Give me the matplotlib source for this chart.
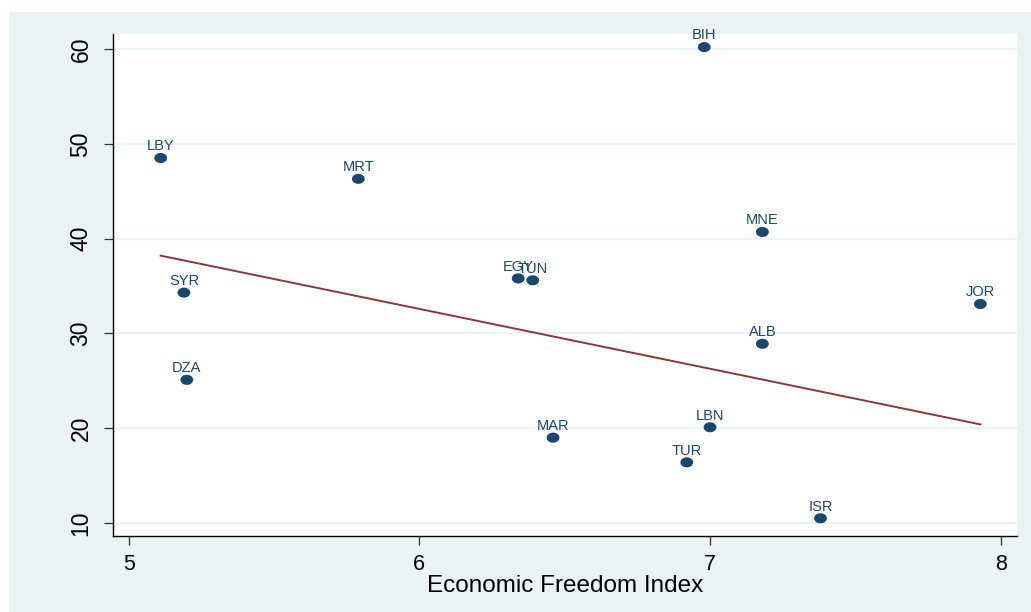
import matplotlib
matplotlib.use("Agg")
import numpy as np
import matplotlib.pyplot as plt
from matplotlib.patches import Rectangle
from matplotlib.path import Path

# Country data: economic freedom index vs. outcome measure
countries = ["BIH", "LBY", "MRT", "MNE", "EGY", "TUN", "SYR",
             "JOR", "ALB", "DZA", "MAR", "LBN", "TUR", "ISR"]
freedom = [6.98, 5.11, 5.79, 7.18, 6.34, 6.39, 5.19,
           7.93, 7.18, 5.20, 6.46, 7.00, 6.92, 7.38]
outcome = [60.2, 48.5, 46.3, 40.7, 35.8, 35.6, 34.3,
           33.1, 28.9, 25.1, 19.0, 20.1, 16.4, 10.5]

# Fitted line endpoints
fit_x = [5.11, 7.93]
fit_y = [38.2, 20.4]

x_ticks = [5, 6, 7, 8]
y_ticks = [10, 20, 30, 40, 50, 60]
x_title = "Economic Freedom Index"

navy = "#1a476f"
maroon = "#90353b"
bg = "#eaf2f3"

plt.rcParams["font.family"] = ["Liberation Sans", "DejaVu Sans"]

# slightly wide oval marker
t = np.linspace(0, 2 * np.pi, 41)
oval = Path(np.column_stack([1.27 * np.cos(t), np.sin(t)]), closed=True)

W, H = 1031, 612
fig = plt.figure(figsize=(W / 100, H / 100), dpi=100, facecolor="white")
fig.patches.append(Rectangle((9 / W, 0), 1 - 9 / W, 1 - 12 / H,
                             transform=fig.transFigure, facecolor=bg,
                             edgecolor="none", zorder=-10))

ax = fig.add_axes([112.7 / W, 1 - 536 / H, (1017 - 112.7) / W, (536 - 34) / H])
ax.set_zorder(1)
ax.set_facecolor("white")

ax.plot(fit_x, fit_y, color=maroon, lw=1.4, zorder=3)
ax.scatter(freedom, outcome, s=85, marker=oval, color=navy,
           edgecolors="none", zorder=4)
for c, xv, yv in zip(countries, freedom, outcome):
    ax.annotate(c, (xv, yv), xytext=(0, 5.5), textcoords="offset points",
                ha="center", va="baseline", fontsize=10.5, color=navy, zorder=5)

ax.set_xlim(4.945, 8.056)
ax.set_ylim(8.63, 61.58)
ax.set_xticks(x_ticks)
ax.set_yticks(y_ticks)
ax.set_xticklabels([str(v) for v in x_ticks])
ax.set_yticklabels([str(v) for v in y_ticks])

ax.grid(axis="y", color=bg, lw=1.6, zorder=1)
ax.set_axisbelow(True)

for side in ("top", "right"):
    ax.spines[side].set_visible(False)
for side in ("left", "bottom"):
    ax.spines[side].set_color("black")
    ax.spines[side].set_linewidth(1.0)

ax.tick_params(axis="both", direction="out", length=6.5, width=0.9,
               color="#333333", labelcolor="black")
ax.tick_params(axis="x", pad=6.5, labelsize=15.5)
ax.tick_params(axis="y", labelrotation=90, pad=8, labelsize=16.5)
for lab in ax.get_yticklabels():
    lab.set_va("center")

ax.set_xlabel(x_title, fontsize=17.5, color="black", labelpad=0)

fig.savefig("out.png", dpi=100, facecolor=fig.get_facecolor())
